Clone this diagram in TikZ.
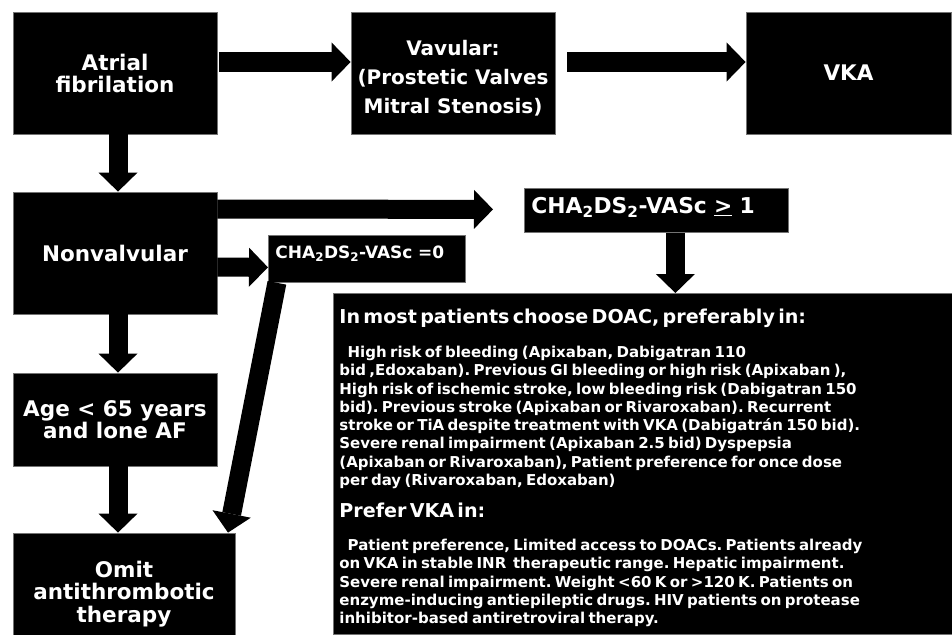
\documentclass[tikz,border=0pt]{standalone}
\usepackage{fontspec}
\setmainfont{DejaVu Sans}
\usetikzlibrary{arrows.meta,calc}
\frenchspacing
\newcommand{\bigfont}{\bfseries\fontsize{21.5}{22}\selectfont}
\newcommand{\headfont}{\bfseries\fontsize{19.1}{24}\selectfont}
\newcommand{\bodyfont}{\bfseries\fontsize{15}{18.3}\selectfont}
\begin{document}
\begin{tikzpicture}[x=1pt,y=-1pt,
  box/.style={fill=black, draw=black!55, line width=0.8pt, text=white, inner sep=0pt, align=center},
  barrow/.style={draw=black, line width=19pt, -{Triangle[width=39pt,length=19pt,line width=0pt]}}
]
\useasboundingbox (0,0) rectangle (952,634);
\fill[white] (0,0) rectangle (952,634);

\node[box, minimum width=204pt, minimum height=122pt, font=\bigfont] (af) at (115,73) {Atrial\\fibrilation};
\node[box, minimum width=204pt, minimum height=122pt, font=\bfseries\fontsize{20}{29}\selectfont] (vav) at (453,73) {\rule{0pt}{0pt}\\[-3pt]Vavular:\\(Prostetic Valves\\Mitral Stenosis)};
\node[box, minimum width=205pt, minimum height=122pt, font=\bigfont] (vka) at (848.5,73) {VKA};
\node[box, minimum width=204pt, minimum height=122pt, font=\bigfont] (nv) at (115,253) {Nonvalvular};
\node[box, minimum width=204pt, minimum height=93pt, font=\bigfont] (age) at (115,419.5) {Age < 65 years\\and lone AF};
\node[box, minimum width=222pt, minimum height=122pt, font=\bfseries\fontsize{21.5}{22.5}\selectfont] (omit) at (124,594) {Omit\\antithrombotic\\therapy};

\node[box, anchor=north west, align=left, text width=183pt, inner xsep=7pt, inner ysep=0pt,
      text height=23pt, text depth=24pt, font=\bfseries\fontsize{17}{20}\selectfont] (cha0) at (268,235)
      {CHA\textsubscript{2}DS\textsubscript{2}-VASc =0};
\node[box, anchor=north west, align=left, text width=250pt, inner xsep=7pt, inner ysep=0pt,
      text height=25pt, text depth=19pt, font=\bfseries\fontsize{21.8}{24}\selectfont] (cha1) at (524,188)
      {CHA\textsubscript{2}DS\textsubscript{2}-VASc \underline{>} 1};

\node[box, anchor=north west, align=left, text width=607pt, inner xsep=6pt, inner ysep=0pt,
      text height=30pt, text depth=311pt] (doac) at (333,293)
{{\headfont In most patients choose DOAC, preferably in:\par}\vspace{15.7pt}%
{\bodyfont\hspace*{0.55em}High risk of bleeding (Apixaban, Dabigatran 110\\
bid ,Edoxaban). Previous GI bleeding or high risk (Apixaban ),\\
High risk of ischemic stroke, low bleeding risk (Dabigatran 150\\
bid). Previous stroke (Apixaban or Rivaroxaban). Recurrent\\
stroke or TiA despite treatment with VKA (Dabigatrán 150 bid).\\
Severe renal impairment (Apixaban 2.5 bid) Dyspepsia\\
(Apixaban or Rivaroxaban), Patient preference for once dose\\
per day (Rivaroxaban, Edoxaban)\par}\vspace{8pt}%
{\headfont Prefer VKA in:\par}\vspace{14.7pt}%
{\bodyfont\hspace*{0.55em}Patient preference, Limited access to DOACs. Patients already\\
on VKA in stable INR\ \ therapeutic range. Hepatic impairment.\\
Severe renal impairment. Weight <60 K or >120 K. Patients on\\
enzyme-inducing antiepileptic drugs. HIV patients on protease\\
inhibitor-based antiretroviral therapy.\par}};

\draw[barrow] ([xshift=2pt,yshift=11pt]af.east) -- ([yshift=11pt]vav.west);
\draw[barrow] ([xshift=12pt,yshift=11pt]vav.east) -- ([yshift=11pt]vka.west);
\draw[barrow] ([xshift=3pt]af.south) -- ([xshift=3pt]af.south |- nv.north);
\draw[barrow] ([yshift=44pt]nv.east) -- ([xshift=-31pt,yshift=1pt]cha1.west);
\draw[barrow] ([yshift=-14pt]nv.east) -- ([yshift=-8.5pt]cha0.west);
\draw[barrow] ([xshift=19pt]cha1.south) -- ([xshift=19pt]cha1.south |- doac.north);
\draw[barrow] ([xshift=-90pt]cha0.south) -- ([xshift=104pt]omit.north);
\draw[barrow] ([xshift=3pt]nv.south) -- ([xshift=3pt]nv.south |- age.north);
\draw[barrow] ([xshift=3pt]age.south) -- ([xshift=3pt]age.south |- omit.north);
\end{tikzpicture}
\end{document}
